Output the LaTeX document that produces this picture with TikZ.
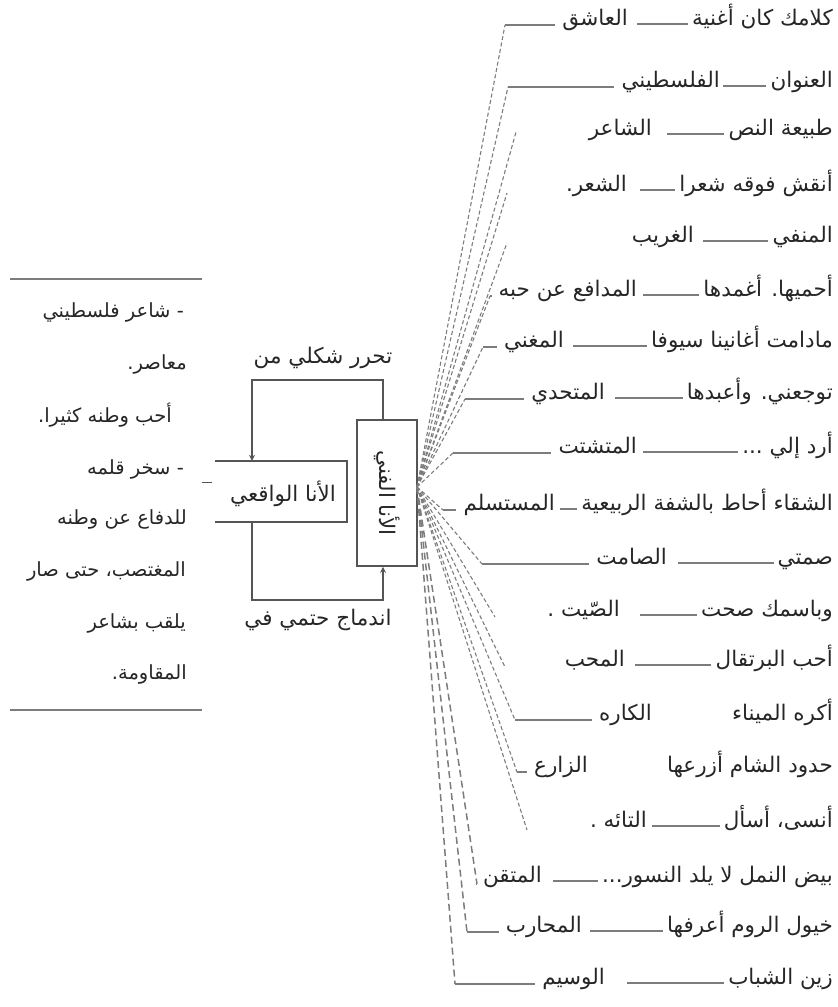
\documentclass[tikz,border=0pt]{standalone}
\usepackage{fontspec}
\TeXXeTstate=1
\newfontfamily\arabicfont[Script=Arabic]{DejaVu Sans}
\usetikzlibrary{arrows.meta,calc}
\definecolor{inkgray}{HTML}{262626}
\definecolor{wiregray}{HTML}{7C7C7C}
\definecolor{framegray}{HTML}{555555}

\tikzset{
  lbl/.style={inner sep=0pt, text=inkgray, font=\arabicfont\fontsize{21.5}{25}\selectfont},
  bio/.style={lbl, font=\arabicfont\fontsize{19.5}{23}\selectfont, anchor=base east},
  fan/.style={draw=wiregray, line width=1.1pt, dash pattern=on 4pt off 2.5pt},
  fanwide/.style={draw=wiregray, line width=1.5pt, dash pattern=on 7pt off 4pt},
  tie/.style={draw=wiregray, line width=1.4pt},
  frame/.style={draw=framegray, line width=1.6pt},
  flow/.style={draw=framegray, line width=1.4pt},
  tip/.style={-{Stealth[length=6pt,width=6pt]}},
}

% one line of the list: phrase, dash, keyword
% #1 id, #2 baseline y, #3 phrase, #4 left end of the dash,
% #5 right edge of the keyword, #6 keyword, #7 dash style
\newcommand{\poemrow}[7]{%
  \node[lbl, anchor=base east] (p#1) at (833,#2) {#3};
  \coordinate (dr#1) at ($(p#1.base west)+(-4,-1)$);
  \coordinate (dl#1) at (#4,#2-1);
  \path[#7] (dl#1) -- (dr#1);
  \node[lbl, anchor=base east] (k#1) at (#5,#2) {#6};
}

\begin{document}
\begin{tikzpicture}[x=1pt,y=-1pt]
\useasboundingbox (0,0) rectangle (838,1007);

% ---- biography block ----
\coordinate (rtl) at (10,279);
\coordinate (rtr) at (202,279);
\coordinate (rbl) at (10,710);
\coordinate (rbr) at (202,710);
\draw[tie] (rtl) -- (rtr);
\draw[tie] (rbl) -- (rbr);
\node[bio] (bio1) at (184,317) {\beginR - شاعر فلسطيني\endR};
\node[bio] (bio2) at (187,369) {\beginR معاصر.\endR};
\node[bio] (bio3) at (172,422) {\beginR أحب وطنه كثيرا.\endR};
\node[bio] (bio4) at (184,474) {\beginR - سخر قلمه\endR};
\node[bio] (bio5) at (187,524) {\beginR للدفاع عن وطنه\endR};
\node[bio] (bio6) at (186,576) {\beginR المغتصب، حتى صار\endR};
\node[bio] (bio7) at (186,628) {\beginR يلقب بشاعر\endR};
\node[bio] (bio8) at (187,679) {\beginR المقاومة.\endR};

% ---- the two selves ----
\node[minimum width=132, minimum height=61, inner sep=0pt] (real) at (281,491.5) {};
\draw[frame] (real.north west) -- (real.north east) -- (real.south east) -- (real.south west);
\node[lbl] (reallbl) at (283,494) {\beginR الأنا الواقعي\endR};
\draw[flow, line width=1pt] (202,482) -- (212,482);

\node[frame, minimum width=60, minimum height=146, inner sep=0pt] (artist) at (387,493) {};
\node[lbl, rotate=-90] (artistlbl) at (artist.center) {\beginR الأنا الفني\endR};

\coordinate (ftr) at (383,380);
\coordinate (ftl) at (252,380);
\draw[flow, tip] (artist.north -| ftr) -- (ftr) -- (ftl) -- (ftl |- real.north);
\node[lbl] (topnote) at (323,358) {\beginR تحرر شكلي من\endR};

\coordinate (fbl) at (252,600);
\coordinate (fbr) at (383,600);
\draw[flow, tip] (real.south -| fbl) -- (fbl) -- (fbr) -- (fbr |- artist.south);
\node[lbl] (botnote) at (318,620) {\beginR اندماج حتمي في\endR};

% ---- the list of images of the self ----
\poemrow{1}{25}{\beginR كلامك كان أغنية\endR}{637}{628}{\beginR العاشق\endR}{tie}
\poemrow{2}{87}{\beginR العنوان\endR}{723}{720}{\beginR الفلسطيني\endR}{tie}
\poemrow{3}{135}{\beginR طبيعة النص\endR}{667}{652}{\beginR الشاعر\endR}{tie}
\poemrow{4}{191}{\beginR أنقش فوقه شعرا\endR}{640}{627}{\beginR الشعر.\endR}{tie}
\poemrow{5}{242}{\beginR المنفي\endR}{703}{694}{\beginR الغريب\endR}{tie}
\poemrow{6}{296}{\beginR أحميها. أغمدها\endR}{643}{637}{\beginR المدافع عن حبه\endR}{tie}
\poemrow{7}{347}{\beginR مادامت أغانينا سيوفا\endR}{573}{564}{\beginR المغني\endR}{tie}
\poemrow{8}{399}{\beginR توجعني. وأعبدها\endR}{615}{605}{\beginR المتحدي\endR}{tie}
\poemrow{9}{453}{\beginR أرد إلي ...\endR}{643}{637}{\beginR المتشتت\endR}{tie}
\poemrow{10}{510}{\beginR الشقاء أحاط بالشفة الربيعية\endR}{560}{555}{\beginR المستسلم\endR}{tie}
\poemrow{11}{564}{\beginR صمتي\endR}{678}{667}{\beginR الصامت\endR}{tie}
\poemrow{12}{616}{\beginR وباسمك صحت\endR}{640}{620}{\beginR الصّيت .\endR}{tie}
\poemrow{13}{666}{\beginR أحب البرتقال\endR}{635}{625}{\beginR المحب\endR}{tie}
\poemrow{14}{720}{\beginR أكره الميناء\endR}{700}{652}{\beginR الكاره\endR}{draw=none}
\poemrow{15}{772}{\beginR حدود الشام أزرعها\endR}{640}{588}{\beginR الزارع\endR}{draw=none}
\poemrow{16}{827}{\beginR أنسى، أسأل\endR}{652}{647}{\beginR التائه .\endR}{tie}
\poemrow{17}{882}{\beginR بيض النمل لا يلد النسور...\endR}{553}{542}{\beginR المتقن\endR}{tie}
\poemrow{18}{932}{\beginR خيول الروم أعرفها\endR}{590}{582}{\beginR المحارب\endR}{tie}
\poemrow{19}{984}{\beginR زين الشباب\endR}{627}{605}{\beginR الوسيم\endR}{tie}

% ---- fan of connectors from the artistic self ----
\coordinate (hub) at (417,487);
% bends that continue as a short solid stroke toward the keyword
\foreach \r/\bx/\by in {1/505/25, 2/508/87, 6/490/296, 7/483/347, 8/465/399,
                        9/453/453, 10/443/510, 11/482/564, 14/515/720, 15/517/772}{
  \coordinate (b\r) at (\bx,\by);
  \draw[fan] (hub) -- (b\r);
  \draw[tie, shorten >=7pt] (b\r) -- (b\r -| k\r.west);
}
% connectors that stop short of the text
\foreach \r/\bx/\by in {3/516/132, 4/507/193, 5/507/243, 12/495/617,
                        13/505/667, 16/527/830}{
  \coordinate (e\r) at (\bx,\by);
  \draw[fan] (hub) -- (e\r);
}
% the three long, steep connectors at the bottom
\foreach \r/\bx/\by in {17/477/884, 18/467/932, 19/455/984}{
  \coordinate (b\r) at (\bx,\by);
  \draw[fanwide] (hub) -- (b\r);
  \draw[tie, shorten >=7pt] (b\r) -- (b\r -| k\r.west);
}
\end{tikzpicture}
\end{document}
